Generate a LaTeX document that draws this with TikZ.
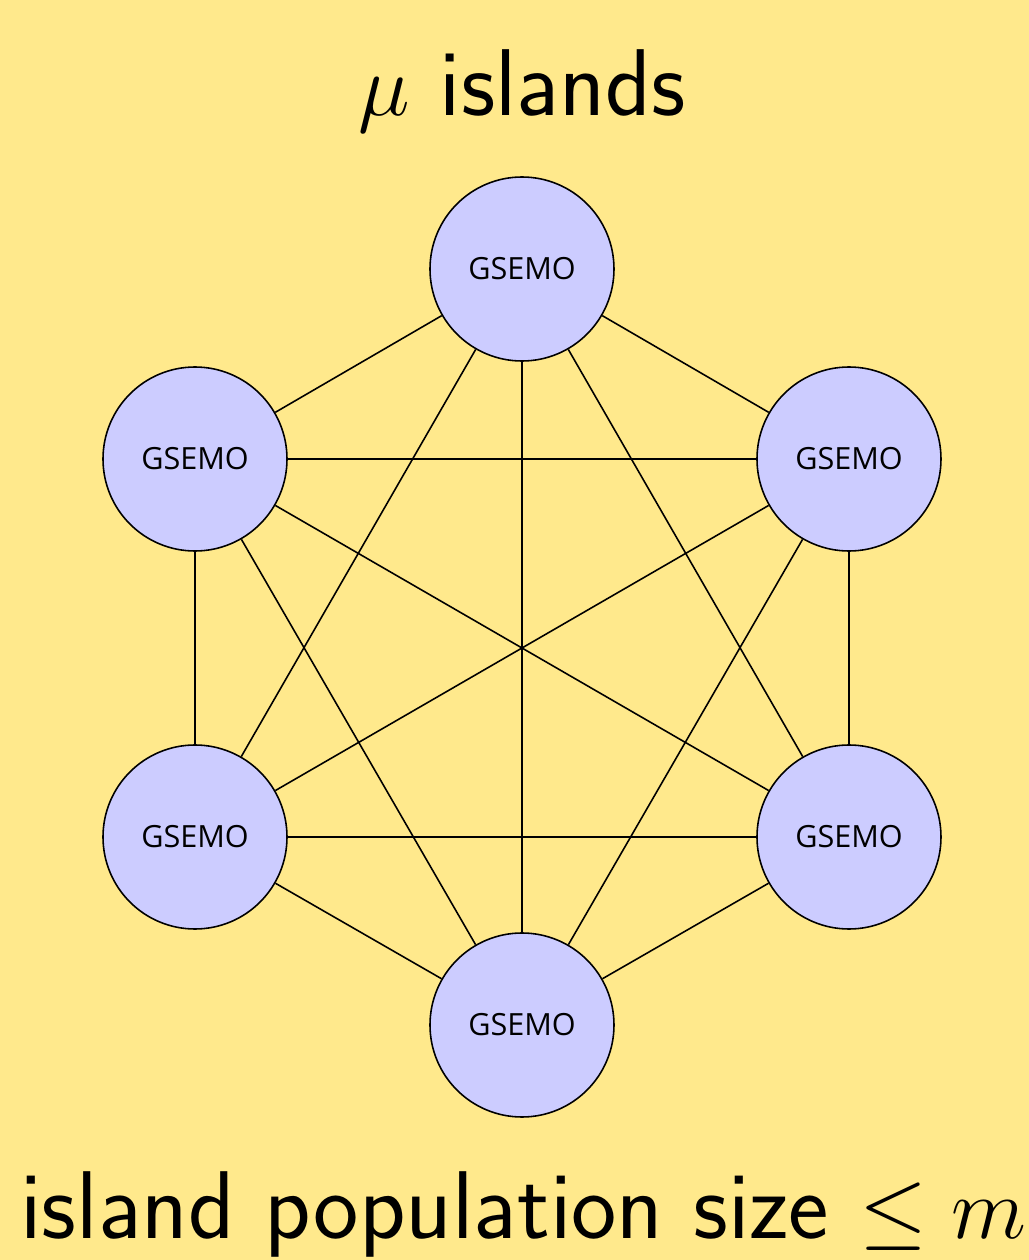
\documentclass[tikz,border=0pt]{standalone}
\usepackage{fontspec}
\usepackage{amsmath, amssymb}
\newfontfamily\islandfont{Open Sans}
\usetikzlibrary{calc}
\definecolor{slidebg}{RGB}{255,233,140}
\definecolor{islandfill}{RGB}{204,204,255}
\tikzset{island/.style={circle, draw, fill=islandfill, minimum size=1.84cm, inner sep=0pt, font=\islandfont\fontsize{8.7}{10}\selectfont}}

\begin{document}
\begin{tikzpicture}[line width=0.45pt]
	\useasboundingbox (0,0) rectangle (10.29,12.6);
	\fill[slidebg] (0,0) rectangle (10.29,12.6);
	\node[anchor = base, font=\sffamily\fontsize{27}{30}\selectfont] (title) at (5.22,11.44) {$\mu$ islands};
	\node[anchor = base, font=\sffamily\fontsize{27.4}{30}\selectfont] (size) at (5.235,0.22) {island population size $\leq m$};
	\node[island] (top) at (5.22,9.91) {GSEMO};
	\node[island] (ul) at (1.95,8.01) {GSEMO};
	\node[island] (ur) at (8.49,8.01) {GSEMO};
	\node[island] (ll) at (1.95,4.23) {GSEMO};
	\node[island] (lr) at (8.49,4.23) {GSEMO};
	\node[island] (bot) at (5.22,2.35) {GSEMO};
	\draw (top)--(ul);
	\draw (top)--(ur);
	\draw (top)--(ll);
	\draw (top)--(lr);
	\draw (top)--(bot);
	\draw (ul)--(ur);
	\draw (ul)--(ll);
	\draw (ul)--(lr);
	\draw (ul)--(bot);
	\draw (ur)--(ll);
	\draw (ur)--(lr);
	\draw (ur)--(bot);
	\draw (ll)--(lr);
	\draw (ll)--(bot);
	\draw (lr)--(bot);
\end{tikzpicture}
\end{document}
